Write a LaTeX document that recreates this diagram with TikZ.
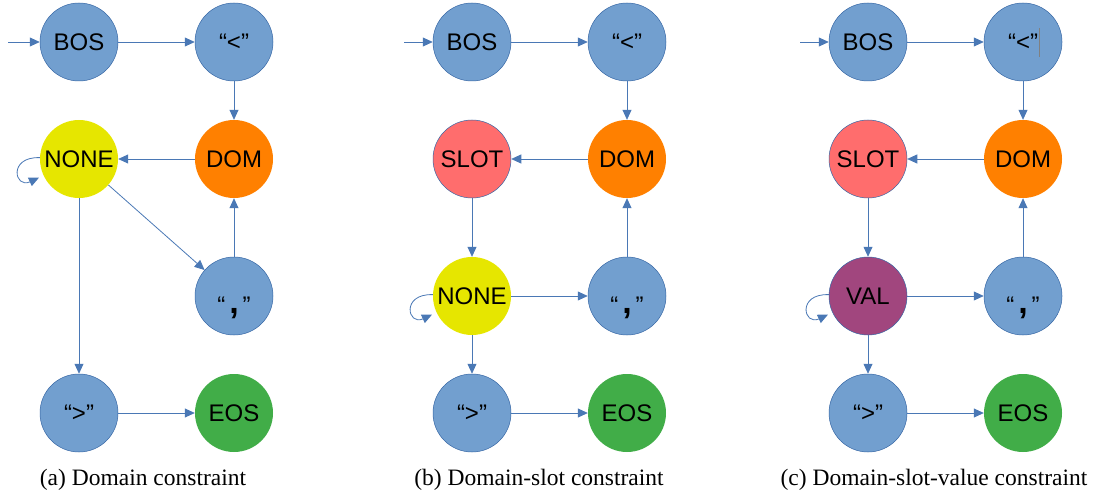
\documentclass[tikz,border=0pt]{standalone}
\usepackage{fontspec}
\setmainfont{Liberation Serif}
\setsansfont{Liberation Sans}
\usetikzlibrary{arrows.meta}

\definecolor{tokblue}{HTML}{729FCF}
\definecolor{tokline}{HTML}{3465A4}
\definecolor{edgeblue}{HTML}{4A78B5}
\definecolor{noneyellow}{HTML}{E6E600}
\definecolor{domorange}{HTML}{FF8000}
\definecolor{slotred}{HTML}{FF6D6D}
\definecolor{eosgreen}{HTML}{41AD48}
\definecolor{valpurple}{HTML}{A1467E}

\begin{document}
\begin{tikzpicture}[x=1pt,y=1pt,->,>={Triangle[length=10pt,width=9pt]},
		every edge/.style={draw=edgeblue,line width=0.8pt},
		tok/.style={circle,minimum size=78pt,inner sep=0pt,text height=17pt,text depth=0pt,
			font=\sffamily\fontsize{24}{24}\selectfont},
		blue tok/.style={tok,fill=tokblue,draw=tokline,line width=0.5pt},
		caption/.style={anchor=base,font=\fontsize{23.5}{26}\selectfont}]

		\useasboundingbox (0,0) rectangle (1094,496);

		% (a) domain constraint
		\coordinate (FigaIn) at (8,454);
		\node at (79,454) [blue tok] (FigaBOS) {BOS};
		\node at (234,454) [blue tok] (FigaLT) {“<”};
		\node at (79,337) [tok,fill=noneyellow] (FigaNONE) {NONE};
		\node at (234,337) [tok,fill=domorange] (FigaDOM) {DOM};
		\node at (234,200) [blue tok] (FigaCOM) {\raisebox{-9pt}{“\,{\bfseries\fontsize{34}{34}\selectfont,}\,”}};
		\node at (79,83) [blue tok] (FigaGT) {“>”};
		\node at (234,83) [tok,fill=eosgreen] (FigaEOS) {EOS};

		\path
		(FigaIn) edge (FigaBOS)
		(FigaBOS) edge (FigaLT)
		(FigaLT) edge (FigaDOM)
		(FigaDOM) edge (FigaNONE)
		(FigaNONE) edge (FigaCOM)
		(FigaCOM) edge (FigaDOM)
		(FigaNONE) edge (FigaGT)
		(FigaGT) edge (FigaEOS)
		(FigaNONE) edge [out=178,in=205,distance=32pt,shorten >=5pt] (FigaNONE);

		% (b) domain-slot constraint
		\coordinate (FigbIn) at (404,454);
		\node at (472,454) [blue tok] (FigbBOS) {BOS};
		\node at (627,454) [blue tok] (FigbLT) {“<”};
		\node at (472,337) [tok,fill=slotred,draw=tokline,line width=0.5pt] (FigbSLOT) {SLOT};
		\node at (627,337) [tok,fill=domorange] (FigbDOM) {DOM};
		\node at (472,200) [tok,fill=noneyellow] (FigbNONE) {NONE};
		\node at (627,200) [blue tok] (FigbCOM) {\raisebox{-9pt}{“\,{\bfseries\fontsize{34}{34}\selectfont,}\,”}};
		\node at (472,83) [blue tok] (FigbGT) {“>”};
		\node at (627,83) [tok,fill=eosgreen] (FigbEOS) {EOS};

		\path
		(FigbIn) edge (FigbBOS)
		(FigbBOS) edge (FigbLT)
		(FigbLT) edge (FigbDOM)
		(FigbDOM) edge (FigbSLOT)
		(FigbSLOT) edge (FigbNONE)
		(FigbNONE) edge (FigbCOM)
		(FigbCOM) edge (FigbDOM)
		(FigbNONE) edge (FigbGT)
		(FigbGT) edge (FigbEOS)
		(FigbNONE) edge [out=178,in=205,distance=32pt,shorten >=5pt] (FigbNONE);

		% (c) domain-slot-value constraint
		\coordinate (FigcIn) at (800,454);
		\node at (868,454) [blue tok] (FigcBOS) {BOS};
		\node at (1023,454) [blue tok] (FigcLT) {“<”};
		\node at (868,337) [tok,fill=slotred,draw=tokline,line width=0.5pt] (FigcSLOT) {SLOT};
		\node at (1023,337) [tok,fill=domorange] (FigcDOM) {DOM};
		\node at (868,200) [tok,fill=valpurple,draw=tokline,line width=0.5pt] (FigcVAL) {VAL};
		\node at (1023,200) [blue tok] (FigcCOM) {\raisebox{-9pt}{“\,{\bfseries\fontsize{34}{34}\selectfont,}\,”}};
		\node at (868,83) [blue tok] (FigcGT) {“>”};
		\node at (1023,83) [tok,fill=eosgreen] (FigcEOS) {EOS};
		\draw [-,gray,line width=0.6pt] (1039,468) -- (1039,439);

		\path
		(FigcIn) edge (FigcBOS)
		(FigcBOS) edge (FigcLT)
		(FigcLT) edge (FigcDOM)
		(FigcDOM) edge (FigcSLOT)
		(FigcSLOT) edge (FigcVAL)
		(FigcVAL) edge (FigcCOM)
		(FigcCOM) edge (FigcDOM)
		(FigcVAL) edge (FigcGT)
		(FigcGT) edge (FigcEOS)
		(FigcVAL) edge [out=178,in=205,distance=32pt,shorten >=5pt] (FigcVAL);

		% captions
		\node at (143,11) [caption] (CapA) {(a) Domain constraint};
		\node at (539,11) [caption] (CapB) {(b) Domain-slot constraint};
		\node at (934,11) [caption] (CapC) {(c) Domain-slot-value constraint};
	\end{tikzpicture}
\end{document}
